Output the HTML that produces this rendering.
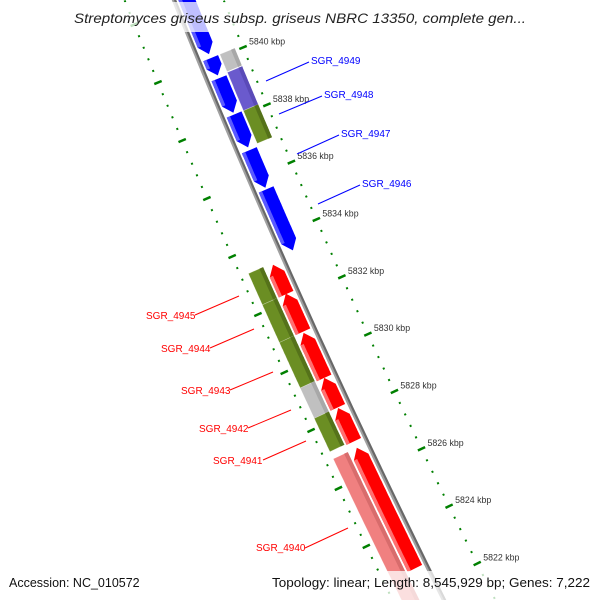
<!DOCTYPE html>
<html><head><meta charset="utf-8"><style>
html,body{margin:0;padding:0;background:#fff;width:600px;height:600px;overflow:hidden;}
svg{display:block;overflow:hidden;font-family:"Liberation Sans","DejaVu Sans",sans-serif;}
</style></head><body>
<svg id="map" width="600" height="600" viewBox="0 0 600 600" xmlns="http://www.w3.org/2000/svg">
<rect width="600" height="600" fill="#fff"/>
<g id="rings"></g>
<g id="backbone"></g>
<g id="genes"></g>
<g id="cogs"></g>
<g id="ticklabels"></g>
<g font-size="10">
  <g fill="#0000ff" stroke="none">
    <line x1="266" y1="81" x2="309" y2="62" stroke="#0000ff"/>
    <text x="311" y="64">SGR_4949</text>
    <line x1="279" y1="114" x2="322" y2="96" stroke="#0000ff"/>
    <text x="324" y="98">SGR_4948</text>
    <line x1="297" y1="154" x2="339" y2="135" stroke="#0000ff"/>
    <text x="341" y="137">SGR_4947</text>
    <line x1="318" y1="204" x2="360" y2="185" stroke="#0000ff"/>
    <text x="362" y="187">SGR_4946</text>
  </g>
  <g fill="#ff0000">
    <line x1="195" y1="315" x2="239" y2="296" stroke="#ff0000"/>
    <text x="146" y="319">SGR_4945</text>
    <line x1="210" y1="348" x2="254" y2="329" stroke="#ff0000"/>
    <text x="161" y="352">SGR_4944</text>
    <line x1="230" y1="390" x2="273" y2="372" stroke="#ff0000"/>
    <text x="181" y="394">SGR_4943</text>
    <line x1="248" y1="428" x2="291" y2="410" stroke="#ff0000"/>
    <text x="199" y="432">SGR_4942</text>
    <line x1="263" y1="460" x2="306" y2="441" stroke="#ff0000"/>
    <text x="213" y="464">SGR_4941</text>
    <line x1="305" y1="548" x2="348" y2="528" stroke="#ff0000"/>
    <text x="256" y="551">SGR_4940</text>
  </g>
</g>
<rect x="68" y="2" width="464" height="30" rx="8" fill="#fff" fill-opacity="0.75"/>
<text x="300" y="23" text-anchor="middle" font-style="italic" font-size="13.5" fill="#222" textLength="452" lengthAdjust="spacingAndGlyphs">Streptomyces griseus subsp. griseus NBRC 13350, complete gen...</text>
<rect x="264" y="571" width="336" height="29" rx="8" fill="#fff" fill-opacity="0.75"/>
<text x="9" y="587" font-size="12.5" fill="#111">Accession: NC_010572</text>
<text x="272" y="587" font-size="12.5" fill="#111" textLength="318" lengthAdjust="spacingAndGlyphs">Topology: linear; Length: 8,545,929 bp; Genes: 7,222</text>
</svg>
<script>
// data (kbp)
const fwdStart = [5842.8, 5840.08, 5839.38, 5838.12, 5836.88, 5835.52];
const fwdEnd   = [5840.22, 5839.48, 5838.18, 5836.98, 5835.58, 5833.4];
const revStart = [5832.22, 5830.92, 5829.32, 5828.3, 5827.12, 5822.72];
const revEnd   = [5833.24, 5832.24, 5830.88, 5829.32, 5828.28, 5826.9];
const fwdCogStart = [5840.08, 5839.45, 5838.12];
const fwdCogEnd   = [5839.48, 5838.12, 5836.98];
const fwdCogClass = ["none", "purple", "olive"];
const revCogStart = [5832.22, 5830.92, 5829.35, 5828.3, 5827.15, 5819.5];
const revCogEnd   = [5833.3, 5832.22, 5830.92, 5829.35, 5828.3, 5826.9];
const revCogClass = ["olive", "olive", "olive", "none", "olive", "pink"];
const majorTicks = [5820, 5822, 5824, 5826, 5828, 5830, 5832, 5834, 5836, 5838, 5840, 5842, 5844];
const tickLabels = ["5822 kbp", "5824 kbp", "5826 kbp", "5828 kbp", "5830 kbp", "5832 kbp", "5834 kbp", "5836 kbp", "5838 kbp", "5840 kbp"];
const tickLabelKbp = [5822, 5824, 5826, 5828, 5830, 5832, 5834, 5836, 5838, 5840];

const NS = "http://www.w3.org/2000/svg";
const cogColor = {none:"#c0c0c0", purple:"#6a5acd", olive:"#6b8e23", pink:"#f08080"};
const cogDark = {none:"#a8a8a8", purple:"#5a4ab8", olive:"#55721a", pink:"#d86c6c"};

function P(k, o) {
  const t = 65 + (5840 - k) * 28.83;
  const s = 0.4025 + 2 * 7.9e-5 * t;
  const L = Math.hypot(s, 1);
  const dx = s / L, dy = 1 / L;
  return [174 + 0.4025 * t + 7.9e-5 * t * t + o * dy, t - o * dx];
}
function pts(list) { return list.map(p => p[0].toFixed(1) + "," + p[1].toFixed(1)).join(" "); }
function el(tag, parent) { const e = document.createElementNS(NS, tag); parent.appendChild(e); return e; }
function curve(k1, k2, o) { const a = []; const n = 40; for (let i = 0; i <= n; i++) a.push(P(k1 + (k2 - k1) * i / n, o)); return a; }

// rings
const rings = document.getElementById("rings");
[46, -46].forEach(o => {
  for (let k = 5819.2; k <= 5845; k += 0.4) {
    const kk = Math.round(k * 10) / 10;
    if (Math.abs(kk / 2 - Math.round(kk / 2)) < 0.01) continue;
    const a = P(kk, o - 1), b = P(kk, o + 1);
    const d = el("line", rings);
    
    
    d.setAttribute("x1", a[0]); d.setAttribute("y1", a[1]); d.setAttribute("x2", b[0]); d.setAttribute("y2", b[1]);
    d.setAttribute("stroke", "#008000"); d.setAttribute("stroke-width", "2");
  }
  majorTicks.forEach(k => {
    const a = P(k, o - 4), b = P(k, o + 4);
    const d = el("line", rings);
    
    
    d.setAttribute("x1", a[0]); d.setAttribute("y1", a[1]); d.setAttribute("x2", b[0]); d.setAttribute("y2", b[1]);
    d.setAttribute("stroke", "#008000"); d.setAttribute("stroke-width", "2.5");
  });
});

// backbone
const bb = document.getElementById("backbone");
[[-1, "#a0a0a0"], [1, "#686868"]].forEach(([o, c]) => {
  const l = el("polyline", bb);
  
  
  l.setAttribute("points", pts(curve(5846, 5819.5, o)));
  l.setAttribute("fill", "none"); l.setAttribute("stroke", c); l.setAttribute("stroke-width", "2.2");
});

// genes
const genes = document.getElementById("genes");
function arrow(hi, lo, o1, o2, headLow, fill, light, name) {
  const h = Math.min(0.32, (hi - lo) * 0.5), m = (o1 + o2) / 2;
  let poly, strip;
  if (headLow) {
    poly = curve(hi, lo + h, o1).concat([P(lo, m)]).concat(curve(lo + h, hi, o2));
    strip = curve(hi, lo + h, o1).concat(curve(lo + h, hi, o1 + 3.5));
  } else {
    poly = curve(lo, hi - h, o1).concat([P(hi, m)]).concat(curve(hi - h, lo, o2));
    strip = curve(lo, hi - h, o1).concat(curve(hi - h, lo, o1 + 3.5));
  }
  const p = el("polygon", genes);
  
  
  p.setAttribute("points", pts(poly)); p.setAttribute("fill", fill);
  const s = el("polygon", genes);
  
  
  s.setAttribute("points", pts(strip)); s.setAttribute("fill", light);
}
fwdStart.forEach((st, i) => arrow(st, fwdEnd[i], 4, 20, true, "#0000ff", "#5a5aff", "forward-gene-" + (i + 1)));
revStart.forEach((st, i) => arrow(revEnd[i], st, -20, -4, false, "#ff0000", "#ff7070", "reverse-gene-" + (i + 1)));

// COG ring
const cogs = document.getElementById("cogs");
function box(hi, lo, o1, o2, cls, name) {
  const poly = curve(hi, lo, o1).concat(curve(lo, hi, o2));
  const p = el("polygon", cogs);
  
  
  p.setAttribute("points", pts(poly)); p.setAttribute("fill", cogColor[cls]);
  p.setAttribute("stroke", "#ffffff"); p.setAttribute("stroke-opacity", "0.35"); p.setAttribute("stroke-width", "0.6");
  const s = el("polygon", cogs);
  
  
  s.setAttribute("points", pts(curve(hi, lo, o2 - 4).concat(curve(lo, hi, o2)))); s.setAttribute("fill", cogDark[cls]);
}
fwdCogStart.forEach((st, i) => box(st, fwdCogEnd[i], 22, 38, fwdCogClass[i], "forward-cog-" + (i + 1)));
revCogStart.forEach((st, i) => box(revCogEnd[i], st, -38, -22, revCogClass[i], "reverse-cog-" + (i + 1)));

// tick labels
const tl = document.getElementById("ticklabels");
tickLabelKbp.forEach((k, i) => {
  const p = P(k, 46);
  const t = el("text", tl);
  
  
  t.setAttribute("x", (p[0] + 6).toFixed(1)); t.setAttribute("y", (p[1] - 3).toFixed(1));
  t.setAttribute("font-size", "8.8"); t.setAttribute("fill", "#333");
  t.textContent = tickLabels[i];
});
</script>
</body></html>
